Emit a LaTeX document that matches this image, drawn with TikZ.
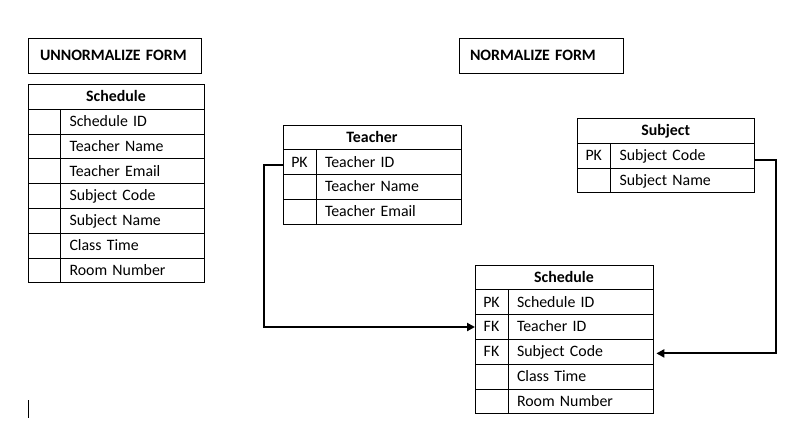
\documentclass[tikz,border=0pt]{standalone}
\usepackage{fontspec}
\setmainfont{Carlito}
\usetikzlibrary{arrows.meta}
\newcommand\erow[7]{% name, x, y, key width px, field width px, key, field
  \pgfmathsetmacro\kw{#4*0.75}\pgfmathsetmacro\tw{(#5-18)*0.75}%
  \node[cell, minimum width=\kw pt, anchor=north west] (#1k) at (#2,#3) {#6};
  \node[cell, text width=\tw pt, inner xsep=6.75pt, align=left, anchor=north west] (#1) at (#1k.north east) {#7};
}
\newcommand\ehead[5]{% name, x, y, width px, text
  \pgfmathsetmacro\hw{#4*0.75}%
  \node[cell, headfont, minimum width=\hw pt, anchor=north west] (#1) at (#2,#3) {#5};
}
\begin{document}
\begin{tikzpicture}[x=0.75pt,y=-0.75pt,
  cell/.style={draw=black, line width=0.75pt, inner sep=0pt, outer sep=0pt, minimum height=18.6pt,
    text height=9.6pt, text depth=2.4pt, font=\fontsize{11.9}{14}\selectfont},
  headfont/.style={font=\fontsize{11.9}{14}\selectfont\bfseries},
  titlebox/.style={draw=black, line width=0.75pt, inner ysep=0pt, outer sep=0pt, minimum height=26.25pt,
    text height=9.4pt, text depth=2.4pt, align=left, font=\fontsize{11.9}{14}\selectfont\bfseries, anchor=north west},
  conn/.style={line width=1.5pt, -{Triangle[length=6pt,width=6pt]}}]
\useasboundingbox (0,0) rectangle (803,440);
% titles
\node[titlebox, inner xsep=9pt, text width=111.75pt] (t-un) at (28,38) {UNNORMALIZE FORM};
\node[titlebox, inner xsep=8.25pt, text width=106.5pt] (t-no) at (459,38) {NORMALIZE FORM};
% unnormalized schedule
\ehead{uh}{28}{84.5}{176}{Schedule}
\foreach \k/\f [count=\i] in {{}/Schedule ID,{}/Teacher Name,{}/Teacher Email,{}/Subject Code,{}/Subject Name,{}/Class Time,{}/Room Number}{
  \pgfmathsetmacro\yy{84.5+24.8*\i}
  \erow{u\i}{28}{\yy}{32.5}{143.5}{\k}{\f}
}
% teacher
\ehead{th}{283}{125}{178}{Teacher}
\foreach \k/\f [count=\i] in {PK/Teacher ID,{}/Teacher Name,{}/Teacher Email}{
  \pgfmathsetmacro\yy{125+24.8*\i}
  \erow{t\i}{283}{\yy}{33}{145}{\k}{\f}
}
% subject
\ehead{jh}{577}{118.5}{177.5}{Subject}
\foreach \k/\f [count=\i] in {PK/Subject Code,{}/Subject Name}{
  \pgfmathsetmacro\yy{118.5+24.8*\i}
  \erow{j\i}{577}{\yy}{33.5}{144}{\k}{\f}
}
% normalized schedule
\ehead{sh}{475}{265}{178}{Schedule}
\foreach \k/\f [count=\i] in {PK/Schedule ID,FK/Teacher ID,FK/Subject Code,{}/Class Time,{}/Room Number}{
  \pgfmathsetmacro\yy{265+24.8*\i}
  \erow{s\i}{475}{\yy}{33}{145}{\k}{\f}
}
% connectors
\draw[conn] ([yshift=-2pt]t1k.west) -- ++(-19,0) |- (s2k.west);
\draw[conn] ([yshift=-3pt]j1.east) -- ++(21,0) |- ([xshift=2.5pt,yshift=-1.2pt]s3.east);
% cursor mark
\draw[line width=0.8pt] (28.5,400) -- (28.5,418);
\end{tikzpicture}
\end{document}
